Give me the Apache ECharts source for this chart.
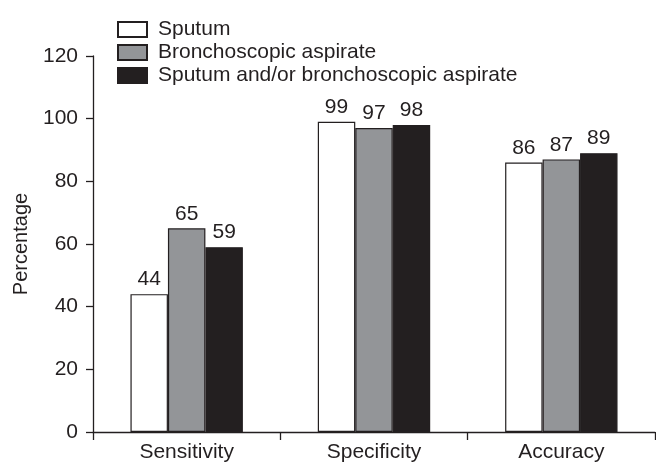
<!DOCTYPE html>
<html>
<head>
<meta charset="utf-8">
<script src="https://cdn.jsdelivr.net/npm/echarts@6/dist/echarts.min.js"></script>
<style>
  html, body { margin: 0; padding: 0; background: #fff; }
  #chart { width: 656px; height: 463px; }
</style>
</head>
<body>
<div id="chart"></div>
<script>
const categories = ['Sensitivity', 'Specificity', 'Accuracy'];
const seriesNames = ['Sputum', 'Bronchoscopic aspirate', 'Sputum and/or bronchoscopic aspirate'];
const sputum = [44, 99, 86];
const bronchoscopic = [65, 97, 87];
const combined = [59, 98, 89];

const ink = '#231f20';
const font = '"Liberation Sans", Arial, sans-serif';

const chart = echarts.init(document.getElementById('chart'), null, { renderer: 'canvas' });

function bar(name, data, color) {
    return {
        name: name,
        type: 'bar',
        data: data,
        barGap: '0%',
        barCategoryGap: '40%',
        itemStyle: { color: color, borderColor: ink, borderWidth: 1.2 },
        label: {
            show: true,
            position: 'top',
            distance: 4,
            color: ink,
            fontSize: 21,
            fontFamily: font
        }
    };
}

chart.setOption({
    animation: false,
    backgroundColor: '#fff',
    textStyle: { fontFamily: font, color: ink },
    legend: {
        orient: 'vertical',
        left: 112,
        top: 14,
        itemWidth: 29,
        itemHeight: 15,
        itemGap: 2,
        icon: 'rect',
        textStyle: { fontSize: 21, color: ink, fontFamily: font, padding: [0, 0, 0, 6] },
        data: seriesNames
    },
    grid: { left: 93, right: 1, top: 56, bottom: 31, containLabel: false },
    xAxis: {
        type: 'category',
        data: categories,
        axisLine: { lineStyle: { color: ink, width: 1.3 } },
        axisTick: { show: true, length: 8, lineStyle: { color: ink, width: 1.3 } },
        axisLabel: { color: ink, fontSize: 21, margin: 10, fontFamily: font }
    },
    yAxis: {
        type: 'value',
        min: 0,
        max: 120,
        interval: 20,
        name: 'Percentage',
        nameLocation: 'middle',
        nameGap: 62,
        nameRotate: 90,
        nameTextStyle: { color: ink, fontSize: 20, fontFamily: font },
        splitLine: { show: false },
        axisLine: { show: true, lineStyle: { color: ink, width: 1.3 } },
        axisTick: { show: true, length: 7, lineStyle: { color: ink, width: 1.3 } },
        axisLabel: { color: ink, fontSize: 21, margin: 15, fontFamily: font }
    },
    series: [
        bar(seriesNames[0], sputum, '#ffffff'),
        bar(seriesNames[1], bronchoscopic, '#939598'),
        bar(seriesNames[2], combined, ink)
    ]
});
</script>
</body>
</html>
